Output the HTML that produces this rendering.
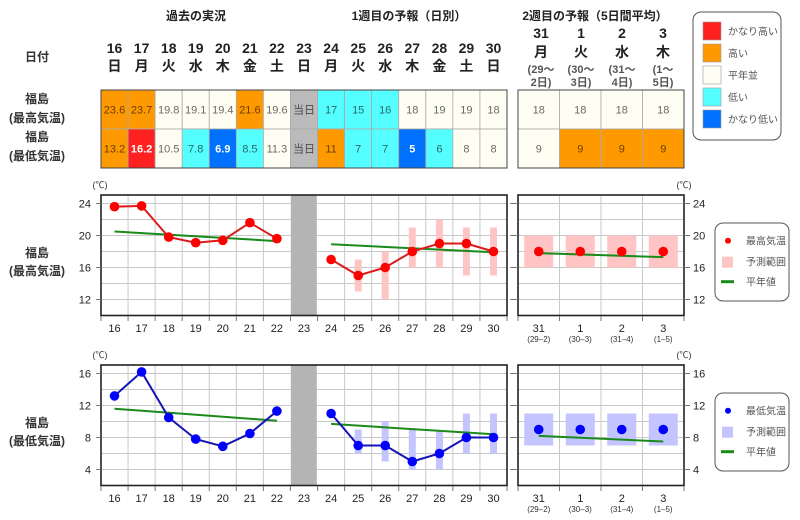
<!DOCTYPE html>
<html><head><meta charset="utf-8"><style>
html,body{margin:0;padding:0;background:#fff;}
svg{display:block;}
text{font-family:"Liberation Sans","Noto Sans CJK JP",sans-serif;}
.h{font-size:12px;font-weight:bold;fill:#222;text-anchor:middle;}
.d{font-size:14px;font-weight:bold;fill:#222;text-anchor:middle;}
.s{font-size:11px;font-weight:bold;fill:#555;text-anchor:middle;}
.c{font-size:11px;fill:rgba(0,0,0,0.6);text-anchor:middle;}
.cw{font-size:11px;font-weight:bold;fill:#fff;text-anchor:middle;}
.lab{font-size:12px;font-weight:bold;fill:#333;text-anchor:middle;}
.ax{font-size:11px;fill:#222;text-anchor:middle;}
.axl{font-size:11px;fill:#222;text-anchor:end;}
.axr{font-size:11px;fill:#222;text-anchor:start;}
.sm{font-size:8px;fill:#333;text-anchor:middle;}
.lg{font-size:10px;fill:#555;}
.grid line{stroke:#c8c8c8;stroke-width:1;}
.tk line{stroke:#777;stroke-width:1;}
</style></head><body>
<svg width="800" height="520" viewBox="0 0 800 520" xmlns="http://www.w3.org/2000/svg">
<rect width="800" height="520" fill="#fff"/>

<!-- Headers -->
<text class="h" x="196" y="20">過去の実況</text>
<text class="h" x="409" y="20">1週目の予報（日別）</text>
<text class="h" x="595" y="20">2週目の予報（5日間平均）</text>

<text class="lab" x="37" y="61">日付</text>
<text class="lab" x="37" y="103">福島</text>
<text class="lab" x="37" y="122">(最高気温)</text>
<text class="lab" x="37" y="141">福島</text>
<text class="lab" x="37" y="160">(最低気温)</text>

<!-- dates -->
<g>
<text class="d" x="114.5" y="53">16</text><text class="d" x="114.5" y="71">日</text>
<text class="d" x="141.6" y="53">17</text><text class="d" x="141.6" y="71">月</text>
<text class="d" x="168.7" y="53">18</text><text class="d" x="168.7" y="71">火</text>
<text class="d" x="195.7" y="53">19</text><text class="d" x="195.7" y="71">水</text>
<text class="d" x="222.8" y="53">20</text><text class="d" x="222.8" y="71">木</text>
<text class="d" x="249.9" y="53">21</text><text class="d" x="249.9" y="71">金</text>
<text class="d" x="276.9" y="53">22</text><text class="d" x="276.9" y="71">土</text>
<text class="d" x="304.0" y="53">23</text><text class="d" x="304.0" y="71">日</text>
<text class="d" x="331.1" y="53">24</text><text class="d" x="331.1" y="71">月</text>
<text class="d" x="358.2" y="53">25</text><text class="d" x="358.2" y="71">火</text>
<text class="d" x="385.2" y="53">26</text><text class="d" x="385.2" y="71">水</text>
<text class="d" x="412.3" y="53">27</text><text class="d" x="412.3" y="71">木</text>
<text class="d" x="439.4" y="53">28</text><text class="d" x="439.4" y="71">金</text>
<text class="d" x="466.4" y="53">29</text><text class="d" x="466.4" y="71">土</text>
<text class="d" x="493.5" y="53">30</text><text class="d" x="493.5" y="71">日</text>

<text class="d" x="541" y="38">31</text><text class="d" x="541" y="57">月</text>
<text class="s" x="541" y="73">(29～</text><text class="s" x="541" y="86">2日)</text>
<text class="d" x="581" y="38">1</text><text class="d" x="581" y="57">火</text>
<text class="s" x="581" y="73">(30～</text><text class="s" x="581" y="86">3日)</text>
<text class="d" x="622" y="38">2</text><text class="d" x="622" y="57">水</text>
<text class="s" x="622" y="73">(31～</text><text class="s" x="622" y="86">4日)</text>
<text class="d" x="663" y="38">3</text><text class="d" x="663" y="57">木</text>
<text class="s" x="663" y="73">(1～</text><text class="s" x="663" y="86">5日)</text>
</g>

<!-- Table 1 cells -->
<g stroke="#aaa" stroke-width="0.8">
<!-- row 1 -->
<rect x="101" y="90" width="27.07" height="39" fill="#ff9900"/>
<rect x="128.07" y="90" width="27.07" height="39" fill="#ff9900"/>
<rect x="155.13" y="90" width="27.07" height="39" fill="#fffef2"/>
<rect x="182.2" y="90" width="27.07" height="39" fill="#fffef2"/>
<rect x="209.27" y="90" width="27.07" height="39" fill="#fffef2"/>
<rect x="236.33" y="90" width="27.07" height="39" fill="#ff9900"/>
<rect x="263.4" y="90" width="27.07" height="39" fill="#fffef2"/>
<rect x="290.47" y="90" width="27.07" height="39" fill="#bbbbbb"/>
<rect x="317.53" y="90" width="27.07" height="39" fill="#55ffff"/>
<rect x="344.6" y="90" width="27.07" height="39" fill="#55ffff"/>
<rect x="371.67" y="90" width="27.07" height="39" fill="#55ffff"/>
<rect x="398.73" y="90" width="27.07" height="39" fill="#fffef2"/>
<rect x="425.8" y="90" width="27.07" height="39" fill="#fffef2"/>
<rect x="452.87" y="90" width="27.07" height="39" fill="#fffef2"/>
<rect x="479.93" y="90" width="27.07" height="39" fill="#fffef2"/>
<!-- row 2 -->
<rect x="101" y="129" width="27.07" height="39" fill="#ff9900"/>
<rect x="128.07" y="129" width="27.07" height="39" fill="#ff2020"/>
<rect x="155.13" y="129" width="27.07" height="39" fill="#fffef2"/>
<rect x="182.2" y="129" width="27.07" height="39" fill="#55ffff"/>
<rect x="209.27" y="129" width="27.07" height="39" fill="#0070ff"/>
<rect x="236.33" y="129" width="27.07" height="39" fill="#55ffff"/>
<rect x="263.4" y="129" width="27.07" height="39" fill="#fffef2"/>
<rect x="290.47" y="129" width="27.07" height="39" fill="#bbbbbb"/>
<rect x="317.53" y="129" width="27.07" height="39" fill="#ff9900"/>
<rect x="344.6" y="129" width="27.07" height="39" fill="#55ffff"/>
<rect x="371.67" y="129" width="27.07" height="39" fill="#55ffff"/>
<rect x="398.73" y="129" width="27.07" height="39" fill="#0070ff"/>
<rect x="425.8" y="129" width="27.07" height="39" fill="#55ffff"/>
<rect x="452.87" y="129" width="27.07" height="39" fill="#fffef2"/>
<rect x="479.93" y="129" width="27.07" height="39" fill="#fffef2"/>
<!-- table 2 -->
<rect x="518" y="90" width="41.5" height="39" fill="#fffef2"/>
<rect x="559.5" y="90" width="41.5" height="39" fill="#fffef2"/>
<rect x="601" y="90" width="41.5" height="39" fill="#fffef2"/>
<rect x="642.5" y="90" width="41.5" height="39" fill="#fffef2"/>
<rect x="518" y="129" width="41.5" height="39" fill="#fffef2"/>
<rect x="559.5" y="129" width="41.5" height="39" fill="#ff9900"/>
<rect x="601" y="129" width="41.5" height="39" fill="#ff9900"/>
<rect x="642.5" y="129" width="41.5" height="39" fill="#ff9900"/>
</g>
<rect x="101" y="90" width="406" height="78" fill="none" stroke="#444" stroke-width="1"/>
<rect x="518" y="90" width="166" height="78" fill="none" stroke="#444" stroke-width="1"/>

<!-- table text -->
<g>
<text class="c" x="114.5" y="113.5">23.6</text>
<text class="c" x="141.6" y="113.5">23.7</text>
<text class="c" x="168.7" y="113.5">19.8</text>
<text class="c" x="195.7" y="113.5">19.1</text>
<text class="c" x="222.8" y="113.5">19.4</text>
<text class="c" x="249.9" y="113.5">21.6</text>
<text class="c" x="276.9" y="113.5">19.6</text>
<text class="c" x="304.0" y="113.5">当日</text>
<text class="c" x="331.1" y="113.5">17</text>
<text class="c" x="358.2" y="113.5">15</text>
<text class="c" x="385.2" y="113.5">16</text>
<text class="c" x="412.3" y="113.5">18</text>
<text class="c" x="439.4" y="113.5">19</text>
<text class="c" x="466.4" y="113.5">19</text>
<text class="c" x="493.5" y="113.5">18</text>
<text class="c" x="114.5" y="152.5">13.2</text>
<text class="cw" x="141.6" y="152.5">16.2</text>
<text class="c" x="168.7" y="152.5">10.5</text>
<text class="c" x="195.7" y="152.5">7.8</text>
<text class="cw" x="222.8" y="152.5">6.9</text>
<text class="c" x="249.9" y="152.5">8.5</text>
<text class="c" x="276.9" y="152.5">11.3</text>
<text class="c" x="304.0" y="152.5">当日</text>
<text class="c" x="331.1" y="152.5">11</text>
<text class="c" x="358.2" y="152.5">7</text>
<text class="c" x="385.2" y="152.5">7</text>
<text class="cw" x="412.3" y="152.5">5</text>
<text class="c" x="439.4" y="152.5">6</text>
<text class="c" x="466.4" y="152.5">8</text>
<text class="c" x="493.5" y="152.5">8</text>
<text class="c" x="538.75" y="113.5">18</text>
<text class="c" x="580.25" y="113.5">18</text>
<text class="c" x="621.75" y="113.5">18</text>
<text class="c" x="663.25" y="113.5">18</text>
<text class="c" x="538.75" y="152.5">9</text>
<text class="c" x="580.25" y="152.5">9</text>
<text class="c" x="621.75" y="152.5">9</text>
<text class="c" x="663.25" y="152.5">9</text>
</g>

<!-- Legend 1 -->
<rect x="693" y="12" width="88" height="128" rx="8" ry="8" fill="#fff" stroke="#555" stroke-width="1"/>
<rect x="703" y="22" width="18" height="18" fill="#ff2020" stroke="#999" stroke-width="0.6"/>
<rect x="703" y="44" width="18" height="18" fill="#ff9900" stroke="#999" stroke-width="0.6"/>
<rect x="703" y="66" width="18" height="18" fill="#fffef2" stroke="#999" stroke-width="0.6"/>
<rect x="703" y="88" width="18" height="18" fill="#55ffff" stroke="#999" stroke-width="0.6"/>
<rect x="703" y="110" width="18" height="18" fill="#0070ff" stroke="#999" stroke-width="0.6"/>
<text class="lg" x="728" y="35">かなり高い</text>
<text class="lg" x="728" y="57">高い</text>
<text class="lg" x="728" y="79">平年並</text>
<text class="lg" x="728" y="101">低い</text>
<text class="lg" x="728" y="123">かなり低い</text>

<!-- ================= CHART 1 (max) ================= -->
<text class="lab" x="37" y="257">福島</text>
<text class="lab" x="37" y="275">(最高気温)</text>
<text x="100" y="188" style="font-size:9px;fill:#333;text-anchor:middle">(℃)</text>
<text x="684" y="188" style="font-size:9px;fill:#333;text-anchor:middle">(℃)</text>

<g class="grid">
<line x1="101" x2="507" y1="203.5" y2="203.5"/><line x1="101" x2="507" y1="219.5" y2="219.5"/>
<line x1="101" x2="507" y1="235.5" y2="235.5"/><line x1="101" x2="507" y1="251.5" y2="251.5"/>
<line x1="101" x2="507" y1="267.5" y2="267.5"/><line x1="101" x2="507" y1="283.5" y2="283.5"/>
<line x1="101" x2="507" y1="299.5" y2="299.5"/>
<line x1="128.07" x2="128.07" y1="195" y2="315.5"/><line x1="155.13" x2="155.13" y1="195" y2="315.5"/>
<line x1="182.2" x2="182.2" y1="195" y2="315.5"/><line x1="209.27" x2="209.27" y1="195" y2="315.5"/>
<line x1="236.33" x2="236.33" y1="195" y2="315.5"/><line x1="263.4" x2="263.4" y1="195" y2="315.5"/>
<line x1="344.6" x2="344.6" y1="195" y2="315.5"/><line x1="371.67" x2="371.67" y1="195" y2="315.5"/>
<line x1="398.73" x2="398.73" y1="195" y2="315.5"/><line x1="425.8" x2="425.8" y1="195" y2="315.5"/>
<line x1="452.87" x2="452.87" y1="195" y2="315.5"/><line x1="479.93" x2="479.93" y1="195" y2="315.5"/>
<line x1="518" x2="684" y1="203.5" y2="203.5"/><line x1="518" x2="684" y1="219.5" y2="219.5"/>
<line x1="518" x2="684" y1="235.5" y2="235.5"/><line x1="518" x2="684" y1="251.5" y2="251.5"/>
<line x1="518" x2="684" y1="267.5" y2="267.5"/><line x1="518" x2="684" y1="283.5" y2="283.5"/>
<line x1="518" x2="684" y1="299.5" y2="299.5"/>
<line x1="559.5" x2="559.5" y1="195" y2="315.5"/><line x1="601" x2="601" y1="195" y2="315.5"/>
<line x1="642.5" x2="642.5" y1="195" y2="315.5"/>
</g>
<rect x="290.8" y="195" width="26" height="120.5" fill="#b4b4b4"/>

<!-- ranges -->
<g fill="#ffc4c4">
<rect x="354.7" y="259.5" width="7" height="32"/>
<rect x="381.7" y="251.5" width="7" height="48"/>
<rect x="408.8" y="227.5" width="7" height="40"/>
<rect x="435.9" y="219.5" width="7" height="48"/>
<rect x="462.9" y="227.5" width="7" height="48"/>
<rect x="490" y="227.5" width="7" height="48"/>
<rect x="524.25" y="235.5" width="29" height="32"/>
<rect x="565.75" y="235.5" width="29" height="32"/>
<rect x="607.25" y="235.5" width="29" height="32"/>
<rect x="648.75" y="235.5" width="29" height="32"/>
</g>
<!-- normals -->
<g stroke="#1a8a1a" stroke-width="2" fill="none">
<line x1="114.5" y1="231.5" x2="276.9" y2="241.1"/>
<line x1="331.1" y1="244.3" x2="493.5" y2="252.3"/>
<line x1="538.75" y1="253.1" x2="663.25" y2="257.1"/>
</g>
<g stroke="#dd1a1a" stroke-width="2" fill="none">
<polyline points="114.5,206.7 141.6,205.9 168.7,237.1 195.7,242.7 222.8,240.3 249.9,222.7 276.9,238.7"/>
<polyline points="331.1,259.5 358.2,275.5 385.2,267.5 412.3,251.5 439.4,243.5 466.4,243.5 493.5,251.5"/>
</g>
<g fill="#ff0000">
<circle cx="114.5" cy="206.7" r="4.8"/><circle cx="141.6" cy="205.9" r="4.8"/>
<circle cx="168.7" cy="237.1" r="4.8"/><circle cx="195.7" cy="242.7" r="4.8"/>
<circle cx="222.8" cy="240.3" r="4.8"/><circle cx="249.9" cy="222.7" r="4.8"/>
<circle cx="276.9" cy="238.7" r="4.8"/>
<circle cx="331.1" cy="259.5" r="4.8"/><circle cx="358.2" cy="275.5" r="4.8"/>
<circle cx="385.2" cy="267.5" r="4.8"/><circle cx="412.3" cy="251.5" r="4.8"/>
<circle cx="439.4" cy="243.5" r="4.8"/><circle cx="466.4" cy="243.5" r="4.8"/>
<circle cx="493.5" cy="251.5" r="4.8"/>
<circle cx="538.75" cy="251.5" r="4.8"/><circle cx="580.25" cy="251.5" r="4.8"/>
<circle cx="621.75" cy="251.5" r="4.8"/><circle cx="663.25" cy="251.5" r="4.8"/>
</g>
<rect x="101" y="195" width="406" height="120.5" fill="none" stroke="#222" stroke-width="1.6"/>
<rect x="518" y="195" width="166" height="120.5" fill="none" stroke="#222" stroke-width="1.6"/>

<g class="tk">
<line x1="96" x2="101" y1="203.5" y2="203.5"/><line x1="96" x2="101" y1="235.5" y2="235.5"/>
<line x1="96" x2="101" y1="267.5" y2="267.5"/><line x1="96" x2="101" y1="299.5" y2="299.5"/>
<line x1="510" x2="518" y1="203.5" y2="203.5"/><line x1="510" x2="518" y1="235.5" y2="235.5"/>
<line x1="510" x2="518" y1="267.5" y2="267.5"/><line x1="510" x2="518" y1="299.5" y2="299.5"/>
<line x1="684" x2="690" y1="203.5" y2="203.5"/><line x1="684" x2="690" y1="235.5" y2="235.5"/>
<line x1="684" x2="690" y1="267.5" y2="267.5"/><line x1="684" x2="690" y1="299.5" y2="299.5"/>
<line x1="101" x2="101" y1="316" y2="321"/><line x1="128.07" x2="128.07" y1="316" y2="321"/>
<line x1="155.13" x2="155.13" y1="316" y2="321"/><line x1="182.2" x2="182.2" y1="316" y2="321"/>
<line x1="209.27" x2="209.27" y1="316" y2="321"/><line x1="236.33" x2="236.33" y1="316" y2="321"/>
<line x1="263.4" x2="263.4" y1="316" y2="321"/><line x1="290.47" x2="290.47" y1="316" y2="321"/>
<line x1="317.53" x2="317.53" y1="316" y2="321"/><line x1="344.6" x2="344.6" y1="316" y2="321"/>
<line x1="371.67" x2="371.67" y1="316" y2="321"/><line x1="398.73" x2="398.73" y1="316" y2="321"/>
<line x1="425.8" x2="425.8" y1="316" y2="321"/><line x1="452.87" x2="452.87" y1="316" y2="321"/>
<line x1="479.93" x2="479.93" y1="316" y2="321"/><line x1="507" x2="507" y1="316" y2="321"/>
<line x1="518" x2="518" y1="316" y2="321"/><line x1="559.5" x2="559.5" y1="316" y2="321"/>
<line x1="601" x2="601" y1="316" y2="321"/><line x1="642.5" x2="642.5" y1="316" y2="321"/>
<line x1="684" x2="684" y1="316" y2="321"/>
</g>
<g>
<text class="axl" x="91" y="207.5">24</text><text class="axl" x="91" y="239.5">20</text>
<text class="axl" x="91" y="271.5">16</text><text class="axl" x="91" y="303.5">12</text>
<text class="axr" x="693" y="207.5">24</text><text class="axr" x="693" y="239.5">20</text>
<text class="axr" x="693" y="271.5">16</text><text class="axr" x="693" y="303.5">12</text>
<text class="ax" x="114.5" y="332">16</text><text class="ax" x="141.6" y="332">17</text>
<text class="ax" x="168.7" y="332">18</text><text class="ax" x="195.7" y="332">19</text>
<text class="ax" x="222.8" y="332">20</text><text class="ax" x="249.9" y="332">21</text>
<text class="ax" x="276.9" y="332">22</text><text class="ax" x="304.0" y="332">23</text>
<text class="ax" x="331.1" y="332">24</text><text class="ax" x="358.2" y="332">25</text>
<text class="ax" x="385.2" y="332">26</text><text class="ax" x="412.3" y="332">27</text>
<text class="ax" x="439.4" y="332">28</text><text class="ax" x="466.4" y="332">29</text>
<text class="ax" x="493.5" y="332">30</text>
<text class="ax" x="538.75" y="332">31</text><text class="ax" x="580.25" y="332">1</text>
<text class="ax" x="621.75" y="332">2</text><text class="ax" x="663.25" y="332">3</text>
<text class="sm" x="538.75" y="342">(29–2)</text><text class="sm" x="580.25" y="342">(30–3)</text>
<text class="sm" x="621.75" y="342">(31–4)</text><text class="sm" x="663.25" y="342">(1–5)</text>
</g>

<!-- legend 2 -->
<rect x="715" y="223" width="74" height="78" rx="8" ry="8" fill="#fff" stroke="#555" stroke-width="1"/>
<circle cx="728" cy="240.7" r="3" fill="#ff0000"/>
<rect x="722" y="256.7" width="11" height="11" fill="#ffc4c4"/>
<line x1="721" x2="734" y1="281.7" y2="281.7" stroke="#1a8a1a" stroke-width="3"/>
<text class="lg" x="746" y="244.5">最高気温</text>
<text class="lg" x="746" y="265.5">予測範囲</text>
<text class="lg" x="746" y="285.5">平年値</text>

<!-- ================= CHART 2 (min) ================= -->
<text class="lab" x="37" y="427">福島</text>
<text class="lab" x="37" y="445">(最低気温)</text>
<text x="100" y="358" style="font-size:9px;fill:#333;text-anchor:middle">(℃)</text>
<text x="684" y="358" style="font-size:9px;fill:#333;text-anchor:middle">(℃)</text>

<g class="grid">
<line x1="101" x2="507" y1="373.5" y2="373.5"/><line x1="101" x2="507" y1="389.5" y2="389.5"/>
<line x1="101" x2="507" y1="405.5" y2="405.5"/><line x1="101" x2="507" y1="421.5" y2="421.5"/>
<line x1="101" x2="507" y1="437.5" y2="437.5"/><line x1="101" x2="507" y1="453.5" y2="453.5"/>
<line x1="101" x2="507" y1="469.5" y2="469.5"/>
<line x1="128.07" x2="128.07" y1="365" y2="485.5"/><line x1="155.13" x2="155.13" y1="365" y2="485.5"/>
<line x1="182.2" x2="182.2" y1="365" y2="485.5"/><line x1="209.27" x2="209.27" y1="365" y2="485.5"/>
<line x1="236.33" x2="236.33" y1="365" y2="485.5"/><line x1="263.4" x2="263.4" y1="365" y2="485.5"/>
<line x1="344.6" x2="344.6" y1="365" y2="485.5"/><line x1="371.67" x2="371.67" y1="365" y2="485.5"/>
<line x1="398.73" x2="398.73" y1="365" y2="485.5"/><line x1="425.8" x2="425.8" y1="365" y2="485.5"/>
<line x1="452.87" x2="452.87" y1="365" y2="485.5"/><line x1="479.93" x2="479.93" y1="365" y2="485.5"/>
<line x1="518" x2="684" y1="373.5" y2="373.5"/><line x1="518" x2="684" y1="389.5" y2="389.5"/>
<line x1="518" x2="684" y1="405.5" y2="405.5"/><line x1="518" x2="684" y1="421.5" y2="421.5"/>
<line x1="518" x2="684" y1="437.5" y2="437.5"/><line x1="518" x2="684" y1="453.5" y2="453.5"/>
<line x1="518" x2="684" y1="469.5" y2="469.5"/>
<line x1="559.5" x2="559.5" y1="365" y2="485.5"/><line x1="601" x2="601" y1="365" y2="485.5"/>
<line x1="642.5" x2="642.5" y1="365" y2="485.5"/>
</g>
<rect x="290.8" y="365" width="26" height="120.5" fill="#b4b4b4"/>

<g fill="#c4c4ff">
<rect x="354.7" y="429.5" width="7" height="24"/>
<rect x="381.7" y="421.5" width="7" height="40"/>
<rect x="408.8" y="429.5" width="7" height="40"/>
<rect x="435.9" y="431" width="7" height="38.5"/>
<rect x="462.9" y="413.5" width="7" height="40"/>
<rect x="490" y="413.5" width="7" height="40"/>
<rect x="524.25" y="413.5" width="29" height="32"/>
<rect x="565.75" y="413.5" width="29" height="32"/>
<rect x="607.25" y="413.5" width="29" height="32"/>
<rect x="648.75" y="413.5" width="29" height="32"/>
</g>
<g stroke="#1a8a1a" stroke-width="2" fill="none">
<line x1="114.5" y1="408.7" x2="276.9" y2="420.7"/>
<line x1="331.1" y1="423.9" x2="493.5" y2="434.3"/>
<line x1="538.75" y1="435.9" x2="663.25" y2="441.5"/>
</g>
<g stroke="#1414b4" stroke-width="2" fill="none">
<polyline points="114.5,395.9 141.6,371.9 168.7,417.5 195.7,439.1 222.8,446.3 249.9,433.5 276.9,411.1"/>
<polyline points="331.1,413.5 358.2,445.5 385.2,445.5 412.3,461.5 439.4,453.5 466.4,437.5 493.5,437.5"/>
</g>
<g fill="#0000ff">
<circle cx="114.5" cy="395.9" r="4.8"/><circle cx="141.6" cy="371.9" r="4.8"/>
<circle cx="168.7" cy="417.5" r="4.8"/><circle cx="195.7" cy="439.1" r="4.8"/>
<circle cx="222.8" cy="446.3" r="4.8"/><circle cx="249.9" cy="433.5" r="4.8"/>
<circle cx="276.9" cy="411.1" r="4.8"/>
<circle cx="331.1" cy="413.5" r="4.8"/><circle cx="358.2" cy="445.5" r="4.8"/>
<circle cx="385.2" cy="445.5" r="4.8"/><circle cx="412.3" cy="461.5" r="4.8"/>
<circle cx="439.4" cy="453.5" r="4.8"/><circle cx="466.4" cy="437.5" r="4.8"/>
<circle cx="493.5" cy="437.5" r="4.8"/>
<circle cx="538.75" cy="429.5" r="4.8"/><circle cx="580.25" cy="429.5" r="4.8"/>
<circle cx="621.75" cy="429.5" r="4.8"/><circle cx="663.25" cy="429.5" r="4.8"/>
</g>
<rect x="101" y="365" width="406" height="120.5" fill="none" stroke="#222" stroke-width="1.6"/>
<rect x="518" y="365" width="166" height="120.5" fill="none" stroke="#222" stroke-width="1.6"/>

<g class="tk">
<line x1="96" x2="101" y1="373.5" y2="373.5"/><line x1="96" x2="101" y1="405.5" y2="405.5"/>
<line x1="96" x2="101" y1="437.5" y2="437.5"/><line x1="96" x2="101" y1="469.5" y2="469.5"/>
<line x1="510" x2="518" y1="373.5" y2="373.5"/><line x1="510" x2="518" y1="405.5" y2="405.5"/>
<line x1="510" x2="518" y1="437.5" y2="437.5"/><line x1="510" x2="518" y1="469.5" y2="469.5"/>
<line x1="684" x2="690" y1="373.5" y2="373.5"/><line x1="684" x2="690" y1="405.5" y2="405.5"/>
<line x1="684" x2="690" y1="437.5" y2="437.5"/><line x1="684" x2="690" y1="469.5" y2="469.5"/>
<line x1="101" x2="101" y1="486" y2="491"/><line x1="128.07" x2="128.07" y1="486" y2="491"/>
<line x1="155.13" x2="155.13" y1="486" y2="491"/><line x1="182.2" x2="182.2" y1="486" y2="491"/>
<line x1="209.27" x2="209.27" y1="486" y2="491"/><line x1="236.33" x2="236.33" y1="486" y2="491"/>
<line x1="263.4" x2="263.4" y1="486" y2="491"/><line x1="290.47" x2="290.47" y1="486" y2="491"/>
<line x1="317.53" x2="317.53" y1="486" y2="491"/><line x1="344.6" x2="344.6" y1="486" y2="491"/>
<line x1="371.67" x2="371.67" y1="486" y2="491"/><line x1="398.73" x2="398.73" y1="486" y2="491"/>
<line x1="425.8" x2="425.8" y1="486" y2="491"/><line x1="452.87" x2="452.87" y1="486" y2="491"/>
<line x1="479.93" x2="479.93" y1="486" y2="491"/><line x1="507" x2="507" y1="486" y2="491"/>
<line x1="518" x2="518" y1="486" y2="491"/><line x1="559.5" x2="559.5" y1="486" y2="491"/>
<line x1="601" x2="601" y1="486" y2="491"/><line x1="642.5" x2="642.5" y1="486" y2="491"/>
<line x1="684" x2="684" y1="486" y2="491"/>
</g>
<g>
<text class="axl" x="91" y="377.5">16</text><text class="axl" x="91" y="409.5">12</text>
<text class="axl" x="91" y="441.5">8</text><text class="axl" x="91" y="473.5">4</text>
<text class="axr" x="693" y="377.5">16</text><text class="axr" x="693" y="409.5">12</text>
<text class="axr" x="693" y="441.5">8</text><text class="axr" x="693" y="473.5">4</text>
<text class="ax" x="114.5" y="502">16</text><text class="ax" x="141.6" y="502">17</text>
<text class="ax" x="168.7" y="502">18</text><text class="ax" x="195.7" y="502">19</text>
<text class="ax" x="222.8" y="502">20</text><text class="ax" x="249.9" y="502">21</text>
<text class="ax" x="276.9" y="502">22</text><text class="ax" x="304.0" y="502">23</text>
<text class="ax" x="331.1" y="502">24</text><text class="ax" x="358.2" y="502">25</text>
<text class="ax" x="385.2" y="502">26</text><text class="ax" x="412.3" y="502">27</text>
<text class="ax" x="439.4" y="502">28</text><text class="ax" x="466.4" y="502">29</text>
<text class="ax" x="493.5" y="502">30</text>
<text class="ax" x="538.75" y="502">31</text><text class="ax" x="580.25" y="502">1</text>
<text class="ax" x="621.75" y="502">2</text><text class="ax" x="663.25" y="502">3</text>
<text class="sm" x="538.75" y="512">(29–2)</text><text class="sm" x="580.25" y="512">(30–3)</text>
<text class="sm" x="621.75" y="512">(31–4)</text><text class="sm" x="663.25" y="512">(1–5)</text>
</g>

<rect x="715" y="393" width="74" height="78" rx="8" ry="8" fill="#fff" stroke="#555" stroke-width="1"/>
<circle cx="728" cy="410.7" r="3" fill="#0000ff"/>
<rect x="722" y="426.7" width="11" height="11" fill="#c4c4ff"/>
<line x1="721" x2="734" y1="451.7" y2="451.7" stroke="#1a8a1a" stroke-width="3"/>
<text class="lg" x="746" y="414.5">最低気温</text>
<text class="lg" x="746" y="435.5">予測範囲</text>
<text class="lg" x="746" y="455.5">平年値</text>
</svg>
</body></html>
